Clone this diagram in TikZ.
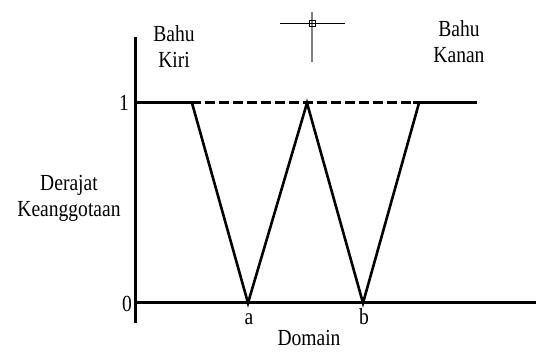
\documentclass[tikz,border=0pt]{standalone}
\usepackage{fontspec}
\setmainfont[FakeStretch=0.85]{Liberation Serif}
\begin{document}
\begin{tikzpicture}[x=1pt,y=-1pt,
  axis/.style={line width=3pt},
  mf/.style={line width=2.6pt},
  lbl/.style={font=\fontsize{23}{26}\selectfont, inner sep=0pt, align=center}]
\useasboundingbox (0,0) rectangle (536,352);
% axes
\coordinate (ytop) at (135,37);
\coordinate (ybot) at (135,323);
\draw[axis] (ytop) -- (ybot);
\coordinate (x0) at (135,303);
\coordinate (xend) at (536,303);
\draw[axis] (x0) -- (xend);
% top line
\coordinate (t0) at (135,103);
\coordinate (t1) at (201,103);
\coordinate (t2) at (413,103);
\coordinate (t3) at (477,103);
\draw[axis] (t0) -- (t1);
\draw[axis, dash pattern=on 10pt off 4pt] ([xshift=4pt]t1) -- (t2);
\draw[axis] (t2) -- (t3);
% V shapes
\coordinate (p1) at (192,103);
\coordinate (a) at (248,303);
\coordinate (p2) at (307,103);
\coordinate (b) at (363,303);
\coordinate (p3) at (419,103);
\draw[mf, line join=miter] (p1) -- (a) -- (p2) -- (b) -- (p3);
% labels
\node[lbl, anchor=base east] (one) at (129,111) {1};
\node[lbl, anchor=base east] (zero) at (132,312) {0};
\node[lbl, anchor=base] (la) at (249,325) {a};
\node[lbl, anchor=base] (lb) at (364,325) {b};
\node[lbl, anchor=base] (dom) at (309,346) {Domain};
\node[lbl] (kiri) at (174,47) {Bahu\\Kiri};
\node[lbl] (kanan) at (459,42) {Bahu\\Kanan};
\node[lbl] (deg) at (69,198) {Derajat\\Keanggotaan};
% crosshair
\coordinate (ch1) at (280,23);
\coordinate (ch2) at (345,23);
\coordinate (cv1) at (312,12);
\coordinate (cv2) at (312,62);
\draw[gray, line width=1.2pt] (cv1) -- (cv2);
\draw[black, line width=0.9pt] (ch1) -- (ch2);
\draw[black, line width=0.7pt] (309,20) rectangle (315,26);
\end{tikzpicture}
\end{document}
